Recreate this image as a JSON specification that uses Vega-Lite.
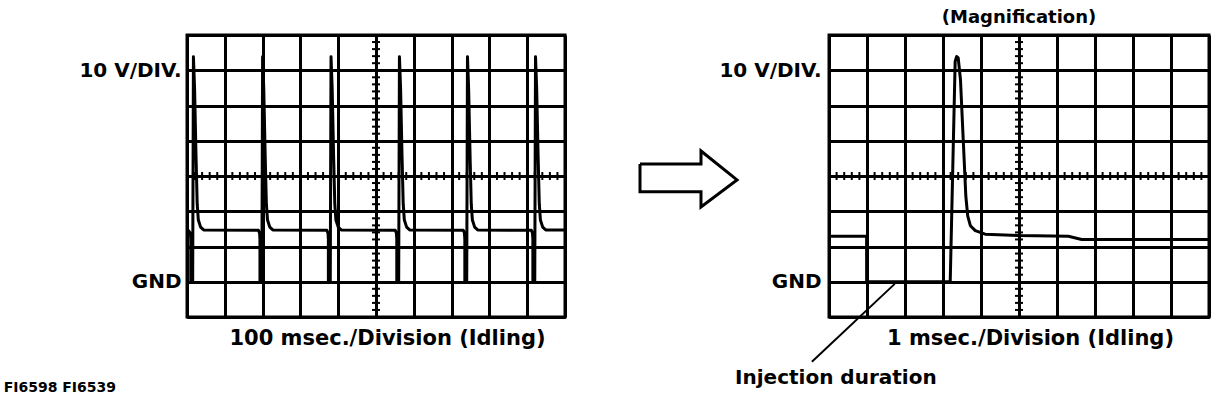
{
  "$schema": "https://vega.github.io/schema/vega-lite/v6.json",
  "background": "white",
  "padding": {"left": 2, "top": 7, "right": 4, "bottom": 4},
  "bounds": "flush",
  "spacing": 75,
  "config": {
    "font": "DejaVu Sans",
    "view": {"stroke": "black", "strokeWidth": 3},
    "axis": {
      "domainColor": "black", "domainWidth": 3,
      "gridColor": "black", "gridWidth": 3, "gridOpacity": 1,
      "ticks": false, "labelOverlap": false,
      "labelFont": "DejaVu Sans", "labelFontWeight": "bold", "labelFontSize": 20, "labelColor": "black",
      "titleFont": "DejaVu Sans", "titleFontWeight": "bold", "titleFontSize": 21, "titleColor": "black"
    },
    "title": {"font": "DejaVu Sans", "fontWeight": "bold", "fontSize": 18, "color": "black"}
  },
  "datasets": {
    "ticksX": [
      {"x":0.2},{"x":0.4},{"x":0.6},{"x":0.8},{"x":1.2},{"x":1.4},{"x":1.6},{"x":1.8},
      {"x":2.2},{"x":2.4},{"x":2.6},{"x":2.8},{"x":3.2},{"x":3.4},{"x":3.6},{"x":3.8},
      {"x":4.2},{"x":4.4},{"x":4.6},{"x":4.8},{"x":5.2},{"x":5.4},{"x":5.6},{"x":5.8},
      {"x":6.2},{"x":6.4},{"x":6.6},{"x":6.8},{"x":7.2},{"x":7.4},{"x":7.6},{"x":7.8},
      {"x":8.2},{"x":8.4},{"x":8.6},{"x":8.8},{"x":9.2},{"x":9.4},{"x":9.6},{"x":9.8}
    ],
    "ticksY": [
      {"y":0.2},{"y":0.4},{"y":0.6},{"y":0.8},{"y":1.2},{"y":1.4},{"y":1.6},{"y":1.8},
      {"y":2.2},{"y":2.4},{"y":2.6},{"y":2.8},{"y":3.2},{"y":3.4},{"y":3.6},{"y":3.8},
      {"y":4.2},{"y":4.4},{"y":4.6},{"y":4.8},{"y":5.2},{"y":5.4},{"y":5.6},{"y":5.8},
      {"y":6.2},{"y":6.4},{"y":6.6},{"y":6.8},{"y":7.2},{"y":7.4},{"y":7.6},{"y":7.8}
    ],
    "idle100": [
      {"i":0,"x":0.03,"y":2.46},
      {"i":1,"x":0.09,"y":2.38},{"i":2,"x":0.1,"y":2.2},{"i":3,"x":0.1,"y":1.0},{"i":4,"x":0.15,"y":1.0},
      {"i":5,"x":0.17,"y":7.38},{"i":6,"x":0.2,"y":6.5},{"i":7,"x":0.24,"y":4.5},{"i":8,"x":0.27,"y":3.2},
      {"i":9,"x":0.3,"y":2.75},{"i":10,"x":0.36,"y":2.55},{"i":11,"x":0.44,"y":2.47},
      {"i":12,"x":1.89,"y":2.46},{"i":13,"x":1.92,"y":2.38},{"i":14,"x":1.93,"y":2.2},{"i":15,"x":1.93,"y":1.0},
      {"i":16,"x":1.98,"y":1.0},{"i":17,"x":2.0,"y":7.38},{"i":18,"x":2.03,"y":6.5},{"i":19,"x":2.07,"y":4.5},
      {"i":20,"x":2.1,"y":3.2},{"i":21,"x":2.13,"y":2.75},{"i":22,"x":2.19,"y":2.55},{"i":23,"x":2.27,"y":2.47},
      {"i":24,"x":3.7,"y":2.46},{"i":25,"x":3.73,"y":2.38},{"i":26,"x":3.74,"y":2.2},{"i":27,"x":3.74,"y":1.0},
      {"i":28,"x":3.79,"y":1.0},{"i":29,"x":3.81,"y":7.38},{"i":30,"x":3.84,"y":6.5},{"i":31,"x":3.88,"y":4.5},
      {"i":32,"x":3.91,"y":3.2},{"i":33,"x":3.94,"y":2.75},{"i":34,"x":4.0,"y":2.55},{"i":35,"x":4.08,"y":2.47},
      {"i":36,"x":5.51,"y":2.46},{"i":37,"x":5.54,"y":2.38},{"i":38,"x":5.55,"y":2.2},{"i":39,"x":5.55,"y":1.0},
      {"i":40,"x":5.6,"y":1.0},{"i":41,"x":5.62,"y":7.38},{"i":42,"x":5.65,"y":6.5},{"i":43,"x":5.69,"y":4.5},
      {"i":44,"x":5.72,"y":3.2},{"i":45,"x":5.75,"y":2.75},{"i":46,"x":5.81,"y":2.55},{"i":47,"x":5.89,"y":2.47},
      {"i":48,"x":7.31,"y":2.46},{"i":49,"x":7.34,"y":2.38},{"i":50,"x":7.35,"y":2.2},{"i":51,"x":7.35,"y":1.0},
      {"i":52,"x":7.4,"y":1.0},{"i":53,"x":7.42,"y":7.38},{"i":54,"x":7.45,"y":6.5},{"i":55,"x":7.49,"y":4.5},
      {"i":56,"x":7.52,"y":3.2},{"i":57,"x":7.55,"y":2.75},{"i":58,"x":7.61,"y":2.55},{"i":59,"x":7.69,"y":2.47},
      {"i":60,"x":9.11,"y":2.46},{"i":61,"x":9.14,"y":2.38},{"i":62,"x":9.15,"y":2.2},{"i":63,"x":9.15,"y":1.0},
      {"i":64,"x":9.2,"y":1.0},{"i":65,"x":9.22,"y":7.38},{"i":66,"x":9.25,"y":6.5},{"i":67,"x":9.29,"y":4.5},
      {"i":68,"x":9.32,"y":3.2},{"i":69,"x":9.35,"y":2.75},{"i":70,"x":9.41,"y":2.55},{"i":71,"x":9.49,"y":2.47},
      {"i":72,"x":10.0,"y":2.47}
    ],
    "idle1": [
      {"i":0,"x":0.0,"y":2.29},{"i":1,"x":0.99,"y":2.29},{"i":2,"x":0.99,"y":1.0},{"i":3,"x":3.19,"y":1.0},
      {"i":4,"x":3.32,"y":7.25},{"i":5,"x":3.36,"y":7.39},{"i":6,"x":3.4,"y":7.35},{"i":7,"x":3.46,"y":6.73},
      {"i":8,"x":3.54,"y":4.85},{"i":9,"x":3.6,"y":3.44},{"i":10,"x":3.65,"y":2.87},{"i":11,"x":3.72,"y":2.59},
      {"i":12,"x":3.85,"y":2.45},{"i":13,"x":4.11,"y":2.35},{"i":14,"x":5.0,"y":2.31},{"i":15,"x":6.3,"y":2.29},
      {"i":16,"x":6.65,"y":2.2},{"i":17,"x":10.0,"y":2.2}
    ],
    "arrow": [
      {"i":0,"x":0.0,"y":4.34},{"i":1,"x":1.605,"y":4.34},{"i":2,"x":1.605,"y":4.71},{"i":3,"x":2.553,"y":3.89},
      {"i":4,"x":1.605,"y":3.12},{"i":5,"x":1.605,"y":3.55},{"i":6,"x":0.0,"y":3.55},{"i":7,"x":0.0,"y":4.34}
    ]
  },
  "hconcat": [
    {
      "width": 378,
      "height": 282,
      "resolve": {"axis": {"x": "independent", "y": "independent"}},
      "layer": [
        {
          "data": {"name": "idle100"},
          "mark": {"type": "line", "color": "black", "strokeWidth": 3, "strokeJoin": "round"},
          "encoding": {
            "x": {"field": "x", "type": "quantitative",
              "scale": {"domain": [0, 10], "nice": false, "zero": false},
              "axis": {"values": [0,1,2,3,4,5,6,7,8,9,10], "tickCount": 20, "grid": true, "labels": false,
                "title": "100 msec./Division (Idling)", "titlePadding": 10, "titleX": 200}},
            "y": {"field": "y", "type": "quantitative",
              "scale": {"domain": [0, 8], "nice": false, "zero": false},
              "axis": {"values": [0,1,2,3,4,5,6,7,8], "tickCount": 20, "grid": true, "title": null, "labelPadding": 6,
                "labelExpr": "datum.value == 1 ? 'GND' : (datum.value == 7 ? '10 V/DIV.' : '')"}},
            "order": {"field": "i", "type": "quantitative"}
          }
        },
        {
          "data": {"name": "ticksX"},
          "mark": {"type": "tick", "orient": "vertical", "size": 8, "thickness": 2, "color": "black", "opacity": 1},
          "encoding": {
            "x": {"field": "x", "type": "quantitative", "axis": null},
            "y": {"datum": 4, "type": "quantitative", "axis": null}
          }
        },
        {
          "data": {"name": "ticksY"},
          "mark": {"type": "tick", "orient": "horizontal", "size": 8, "thickness": 2, "color": "black", "opacity": 1},
          "encoding": {
            "x": {"datum": 5, "type": "quantitative", "axis": null},
            "y": {"field": "y", "type": "quantitative", "axis": null}
          }
        },
        {
          "data": {"values": [{"x": -4.85, "y": -2.0, "label": "FI6598 FI6539"}]},
          "mark": {"type": "text", "align": "left", "baseline": "middle", "fontSize": 14, "fontWeight": "bold", "font": "DejaVu Sans", "color": "black"},
          "encoding": {
            "x": {"field": "x", "type": "quantitative", "axis": null},
            "y": {"field": "y", "type": "quantitative", "axis": null},
            "text": {"field": "label"}
          }
        }
      ]
    },
    {
      "width": 114,
      "height": 282,
      "view": {"stroke": null},
      "data": {"name": "arrow"},
      "mark": {"type": "line", "color": "black", "strokeWidth": 3, "strokeJoin": "miter"},
      "encoding": {
        "x": {"field": "x", "type": "quantitative", "scale": {"domain": [0, 3], "nice": false, "zero": false}, "axis": null},
        "y": {"field": "y", "type": "quantitative", "scale": {"domain": [0, 8], "nice": false, "zero": false}, "axis": null},
        "order": {"field": "i", "type": "quantitative"}
      }
    },
    {
      "width": 380,
      "height": 282,
      "title": {"text": "(Magnification)", "offset": -2},
      "resolve": {"axis": {"x": "independent", "y": "independent"}},
      "layer": [
        {
          "data": {"name": "idle1"},
          "mark": {"type": "line", "color": "black", "strokeWidth": 3, "strokeJoin": "round"},
          "encoding": {
            "x": {"field": "x", "type": "quantitative",
              "scale": {"domain": [0, 10], "nice": false, "zero": false},
              "axis": {"values": [0,1,2,3,4,5,6,7,8,9,10], "tickCount": 20, "grid": true, "labels": false,
                "title": "1 msec./Division (Idling)", "titlePadding": 10, "titleX": 201}},
            "y": {"field": "y", "type": "quantitative",
              "scale": {"domain": [0, 8], "nice": false, "zero": false},
              "axis": {"values": [0,1,2,3,4,5,6,7,8], "tickCount": 20, "grid": true, "title": null, "labelPadding": 8,
                "labelExpr": "datum.value == 1 ? 'GND' : (datum.value == 7 ? '10 V/DIV.' : '')"}},
            "order": {"field": "i", "type": "quantitative"}
          }
        },
        {
          "data": {"name": "ticksX"},
          "mark": {"type": "tick", "orient": "vertical", "size": 8, "thickness": 2, "color": "black", "opacity": 1},
          "encoding": {
            "x": {"field": "x", "type": "quantitative", "axis": null},
            "y": {"datum": 4, "type": "quantitative", "axis": null}
          }
        },
        {
          "data": {"name": "ticksY"},
          "mark": {"type": "tick", "orient": "horizontal", "size": 8, "thickness": 2, "color": "black", "opacity": 1},
          "encoding": {
            "x": {"datum": 5, "type": "quantitative", "axis": null},
            "y": {"field": "y", "type": "quantitative", "axis": null}
          }
        },
        {
          "data": {"values": [{"x": -0.45, "y": -1.27, "x2": 1.73, "y2": 0.94}]},
          "mark": {"type": "rule", "strokeWidth": 2, "color": "black"},
          "encoding": {
            "x": {"field": "x", "type": "quantitative", "axis": null},
            "y": {"field": "y", "type": "quantitative", "axis": null},
            "x2": {"field": "x2"},
            "y2": {"field": "y2"}
          }
        },
        {
          "data": {"values": [{"x": 0.18, "y": -1.72, "label": "Injection duration"}]},
          "mark": {"type": "text", "align": "center", "baseline": "middle", "fontSize": 20, "fontWeight": "bold", "font": "DejaVu Sans", "color": "black"},
          "encoding": {
            "x": {"field": "x", "type": "quantitative", "axis": null},
            "y": {"field": "y", "type": "quantitative", "axis": null},
            "text": {"field": "label"}
          }
        }
      ]
    }
  ]
}
